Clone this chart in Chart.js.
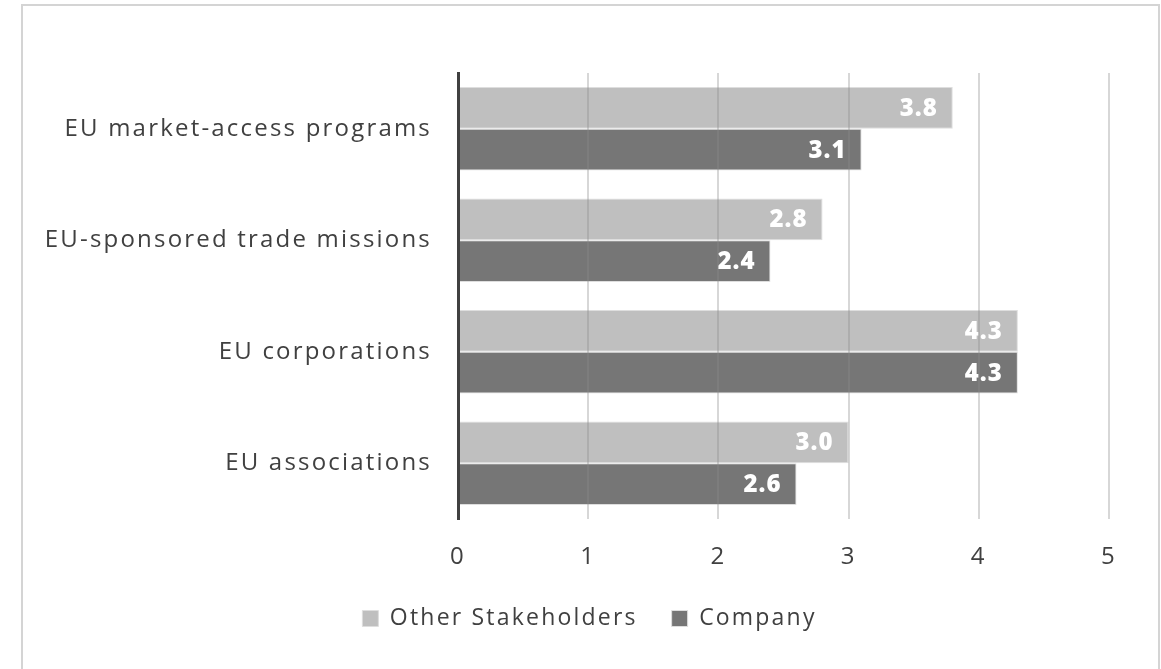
<!DOCTYPE html>
<html>
<head>
<meta charset="utf-8">
<script src="https://cdn.jsdelivr.net/npm/chart.js@4"></script>
<style>
    html, body { margin: 0; padding: 0; background: #fff; }
    #frame {
        position: absolute;
        left: 21px; top: 4px;
        width: 1135px; height: 700px;
        border: 2px solid #d4d4d4;
    }
    #wrap { position: absolute; left: 0; top: 0; width: 1161px; height: 669px; }
</style>
</head>
<body>
<div id="frame"></div>
<div id="wrap"><canvas id="chart" width="1161" height="669"></canvas></div>
<script>
// Chart data
const categories = ['EU market-access programs', 'EU-sponsored trade missions', 'EU corporations', 'EU associations'];
const otherStakeholders = [3.8, 2.8, 4.3, 3.0];
const company = [3.1, 2.4, 4.3, 2.6];
const xTicks = [0, 1, 2, 3, 4, 5];

const fontFamily = "'Open Sans', sans-serif";
const spacing = '2.2px';

// Wider letter spacing so the text looks closer to the original font
const wideText = {
    id: 'wideText',
    beforeInit(chart) { chart.ctx.letterSpacing = spacing; },
    beforeUpdate(chart) { chart.ctx.letterSpacing = spacing; },
    beforeDraw(chart) { chart.ctx.letterSpacing = spacing; }
};

// Center the legend under the whole frame instead of the canvas minus padding
const shiftLegend = {
    id: 'shiftLegend',
    afterLayout(chart) {
        chart.legend.left += 35;
        chart.legend.right += 35;
    }
};

// Draw value labels inside the end of each bar
const barLabels = {
    id: 'barLabels',
    afterDatasetsDraw(chart) {
        const ctx = chart.ctx;
        ctx.save();
        ctx.letterSpacing = '1px';
        ctx.fillStyle = '#ffffff';
        ctx.font = '800 24px ' + fontFamily;
        ctx.textAlign = 'right';
        ctx.textBaseline = 'middle';
        chart.data.datasets.forEach((ds, i) => {
            chart.getDatasetMeta(i).data.forEach((bar, j) => {
                ctx.fillText(ds.data[j].toFixed(1), bar.x - 15, bar.y + 1);
            });
        });
        ctx.restore();
    }
};

new Chart(document.getElementById('chart'), {
    type: 'bar',
    data: {
        labels: categories,
        datasets: [{
            label: 'Other Stakeholders',
            data: otherStakeholders,
            backgroundColor: '#bfbfbf',
            borderColor: '#dedede',
            borderWidth: 1,
            categoryPercentage: 0.75,
            barPercentage: 1.0
        }, {
            label: 'Company',
            data: company,
            backgroundColor: '#767676',
            borderColor: '#dedede',
            borderWidth: 1,
            categoryPercentage: 0.75,
            barPercentage: 1.0
        }]
    },
    options: {
        indexAxis: 'y',
        responsive: false,
        animation: false,
        layout: { padding: { top: 73, right: 52, bottom: 29, left: 0 } },
        plugins: {
            legend: {
                position: 'bottom',
                labels: {
                    color: '#404040',
                    font: { family: fontFamily, size: 23 },
                    boxWidth: 16,
                    boxHeight: 16,
                    padding: 34
                }
            },
            tooltip: { enabled: false }
        },
        scales: {
            x: {
                min: 0,
                max: 5,
                afterBuildTicks(scale) {
                    scale.ticks = xTicks.map(v => ({ value: v }));
                },
                afterFit(scale) { scale.height = 54; },
                grid: {
                    color: 'rgba(140,140,140,0.35)',
                    lineWidth: 2,
                    drawTicks: false,
                    z: 1
                },
                border: { display: false },
                ticks: {
                    color: '#404040',
                    font: { family: fontFamily, size: 24 },
                    padding: 24
                }
            },
            y: {
                afterFit(scale) { scale.width = 458; },
                grid: { display: false, drawTicks: false },
                border: { display: true, color: '#404040', width: 3, z: 2 },
                ticks: {
                    color: '#404040',
                    font: { family: fontFamily, size: 24 },
                    padding: 26
                }
            }
        }
    },
    plugins: [wideText, shiftLegend, barLabels]
});
</script>
</body>
</html>
